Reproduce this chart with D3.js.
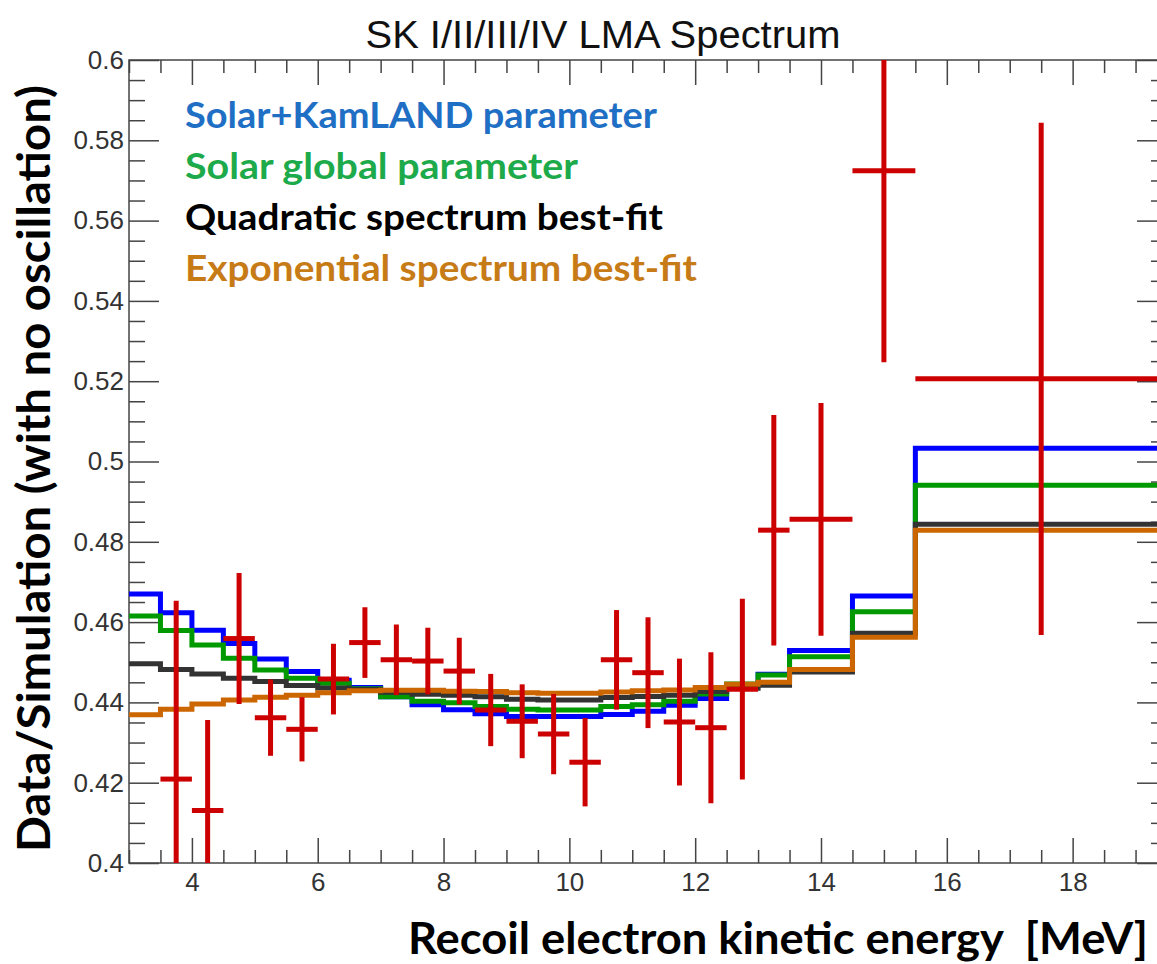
<!DOCTYPE html>
<html lang="en">
<head>
<meta charset="UTF-8">
<title>SK I/II/III/IV LMA Spectrum</title>
<script src="https://d3js.org/d3.v7.min.js"></script>
<style>
    body { margin: 0; background: #fff; }
    svg { display: block; }
    .tick text { font-family: "Liberation Sans", Arial, sans-serif; font-size: 26px; fill: #333; }
    .lbl { font-family: Lato, "Open Sans", sans-serif; font-weight: bold; }
</style>
</head>
<body>
<svg width="1157" height="964"></svg>
<script>
    // bin edges of the MC histograms
    const binEdges = [3, 3.5, 4, 4.5, 5, 5.5, 6, 6.5, 7, 7.5, 8, 8.5, 9, 9.5, 10, 10.5, 11, 11.5, 12, 12.5, 13, 13.5, 14.5, 15.5, 19.5];

    const solarKamland = [0.467, 0.4623, 0.458, 0.4547, 0.4508, 0.4477, 0.4455, 0.4437, 0.4414, 0.4394, 0.4382, 0.4372, 0.4365, 0.4365, 0.4365, 0.4370, 0.4378, 0.4393, 0.441, 0.4443, 0.447, 0.4529, 0.4665, 0.5033];
    const solarGlobal  = [0.4615, 0.4579, 0.4543, 0.451, 0.4481, 0.446, 0.4448, 0.4434, 0.4414, 0.4403, 0.4399, 0.439, 0.4383, 0.4381, 0.4381, 0.439, 0.4394, 0.4403, 0.4421, 0.4446, 0.4468, 0.4514, 0.4626, 0.4941];
    const quadratic    = [0.4496, 0.4482, 0.4471, 0.446, 0.4452, 0.4442, 0.4436, 0.4432, 0.4425, 0.442, 0.4418, 0.4414, 0.4408, 0.4406, 0.4406, 0.4412, 0.4415, 0.4418, 0.4427, 0.4435, 0.4443, 0.4476, 0.4572, 0.4844];
    const exponential  = [0.4369, 0.4383, 0.4396, 0.4406, 0.4413, 0.4418, 0.4424, 0.4429, 0.443, 0.443, 0.4428, 0.4427, 0.4424, 0.4423, 0.4423, 0.4426, 0.4429, 0.4431, 0.4437, 0.4445, 0.445, 0.4482, 0.4562, 0.4829];

    // data points
    const dataX    = [3.75, 4.25, 4.75, 5.25, 5.75, 6.25, 6.75, 7.25, 7.75, 8.25, 8.75, 9.25, 9.75, 10.25, 10.75, 11.25, 11.75, 12.25, 12.75, 13.25, 14, 15, 17.5];
    const dataXerr = [0.25, 0.25, 0.25, 0.25, 0.25, 0.25, 0.25, 0.25, 0.25, 0.25, 0.25, 0.25, 0.25, 0.25, 0.25, 0.25, 0.25, 0.25, 0.25, 0.25, 0.5, 0.5, 2];
    const dataY    = [0.4209, 0.4131, 0.4559, 0.4362, 0.4333, 0.4458, 0.4549, 0.4506, 0.4503, 0.4478, 0.4381, 0.4353, 0.4321, 0.4251, 0.4506, 0.4474, 0.4351, 0.4337, 0.4433, 0.4829, 0.4856, 0.5724, 0.5206];
    const dataYerr = [0.0444, 0.0225, 0.0163, 0.0095, 0.008, 0.0088, 0.0088, 0.0088, 0.0083, 0.0083, 0.009, 0.0092, 0.01, 0.011, 0.0124, 0.0138, 0.0158, 0.0188, 0.0225, 0.0287, 0.029, 0.0477, 0.0638];

    const xTickLabels = ["4", "6", "8", "10", "12", "14", "16", "18"];
    const yTickLabels = ["0.4", "0.42", "0.44", "0.46", "0.48", "0.5", "0.52", "0.54", "0.56", "0.58", "0.6"];

    const legendNames  = ["Solar+KamLAND parameter", "Solar global parameter", "Quadratic spectrum best-fit", "Exponential spectrum best-fit"];
    const legendWidths = [472, 393, 478, 512];
    const legendColors = ["#1f6fc5", "#1daa4b", "#000000", "#c77b16"];
    const lineColors   = ["#0000ff", "#009a00", "#333333", "#cc6600"];

    const svg = d3.select("svg");
    const pLeft = 129, pRight = 1167, pTop = 60, pBottom = 863;

    const x = d3.scaleLinear().domain([3, 19.5]).range([pLeft, pRight]);
    const y = d3.scaleLinear().domain([0.4, 0.6]).range([pBottom, pTop]);

    svg.append("clipPath").attr("id", "plot")
        .append("rect").attr("x", pLeft).attr("y", pTop)
        .attr("width", pRight - pLeft).attr("height", pBottom - pTop);

    // ticks
    const xMajor = xTickLabels.map(Number);
    const xMinor = d3.range(3, 19.5, 0.5).filter(v => !xMajor.includes(v));
    const yMajor = yTickLabels.map(Number);
    const yMinor = d3.range(0, 40).map(i => 0.4 + i * 0.005).filter(v => yMajor.every(m => Math.abs(m - v) > 1e-6));

    function styleAxis(g) {
        g.select(".domain").remove();
        g.selectAll(".tick line").attr("stroke", "#444").attr("stroke-width", 1.5);
    }

    svg.append("g").attr("transform", `translate(0,${pBottom})`)
        .call(d3.axisBottom(x).tickValues(xMinor).tickSize(-13).tickFormat(""))
        .call(styleAxis);
    svg.append("g").attr("transform", `translate(0,${pBottom})`)
        .call(d3.axisBottom(x).tickValues(xMajor).tickSize(-25).tickPadding(10).tickFormat((d, i) => xTickLabels[i]))
        .call(styleAxis);
    svg.append("g").attr("transform", `translate(0,${pTop})`)
        .call(d3.axisTop(x).tickValues(xMinor).tickSize(-13).tickFormat(""))
        .call(styleAxis);
    svg.append("g").attr("transform", `translate(0,${pTop})`)
        .call(d3.axisTop(x).tickValues(xMajor).tickSize(-25).tickFormat(""))
        .call(styleAxis);

    svg.append("g").attr("transform", `translate(${pLeft},0)`)
        .call(d3.axisLeft(y).tickValues(yMinor).tickSize(-16).tickFormat(""))
        .call(styleAxis);
    svg.append("g").attr("transform", `translate(${pLeft},0)`)
        .call(d3.axisLeft(y).tickValues(yMajor).tickSize(-30).tickPadding(5).tickFormat((d, i) => yTickLabels[i]))
        .call(styleAxis);
    svg.append("g").attr("transform", `translate(${pRight},0)`)
        .call(d3.axisRight(y).tickValues(yMinor).tickSize(-16).tickFormat(""))
        .call(styleAxis);
    svg.append("g").attr("transform", `translate(${pRight},0)`)
        .call(d3.axisRight(y).tickValues(yMajor).tickSize(-30).tickFormat(""))
        .call(styleAxis);

    // frame
    svg.append("rect").attr("x", pLeft).attr("y", pTop)
        .attr("width", pRight - pLeft).attr("height", pBottom - pTop)
        .attr("fill", "none").attr("stroke", "#444").attr("stroke-width", 1.5);

    // histograms
    const plot = svg.append("g").attr("clip-path", "url(#plot)");
    const line = d3.line().x(d => x(d[0])).y(d => y(d[1]));
    [solarKamland, solarGlobal, quadratic, exponential].forEach((vals, k) => {
        const pts = [];
        vals.forEach((v, i) => { pts.push([binEdges[i], v]); pts.push([binEdges[i + 1], v]); });
        plot.append("path").attr("d", line(pts))
            .attr("fill", "none").attr("stroke", lineColors[k])
            .attr("stroke-width", 5).attr("stroke-linejoin", "miter");
    });

    // data with error bars
    const marks = plot.append("g").selectAll("g").data(dataX).join("g");
    marks.append("line")
        .attr("x1", (d, i) => x(d - dataXerr[i])).attr("x2", (d, i) => x(d + dataXerr[i]))
        .attr("y1", (d, i) => y(dataY[i])).attr("y2", (d, i) => y(dataY[i]));
    marks.append("line")
        .attr("x1", d => x(d)).attr("x2", d => x(d))
        .attr("y1", (d, i) => y(dataY[i] - dataYerr[i])).attr("y2", (d, i) => y(dataY[i] + dataYerr[i]));
    marks.selectAll("line").attr("stroke", "#cc0000").attr("stroke-width", 5);

    // legend
    svg.append("g").selectAll("text").data(legendNames).join("text")
        .attr("class", "lbl")
        .attr("x", 185).attr("y", (d, i) => 128 + i * 51)
        .attr("font-size", 36)
        .attr("textLength", (d, i) => legendWidths[i])
        .attr("lengthAdjust", "spacingAndGlyphs")
        .attr("fill", (d, i) => legendColors[i])
        .text(d => d);

    // titles
    svg.append("text").attr("x", 603).attr("y", 48)
        .attr("text-anchor", "middle")
        .attr("font-family", "'Liberation Sans', Arial, sans-serif")
        .attr("font-size", 38).attr("fill", "#111")
        .attr("textLength", 475).attr("lengthAdjust", "spacingAndGlyphs")
        .text("SK I/II/III/IV LMA Spectrum");

    svg.append("text").attr("class", "lbl")
        .attr("x", 408).attr("y", 954)
        .attr("font-size", 44).attr("fill", "#000")
        .attr("textLength", 740).attr("lengthAdjust", "spacingAndGlyphs")
        .style("white-space", "pre")
        .text("Recoil electron kinetic energy  [MeV]");

    svg.append("text").attr("class", "lbl")
        .attr("transform", "translate(50,852) rotate(-90)")
        .attr("font-size", 45).attr("fill", "#000")
        .attr("textLength", 767).attr("lengthAdjust", "spacingAndGlyphs")
        .text("Data/Simulation (with no oscillation)");
</script>
</body>
</html>
